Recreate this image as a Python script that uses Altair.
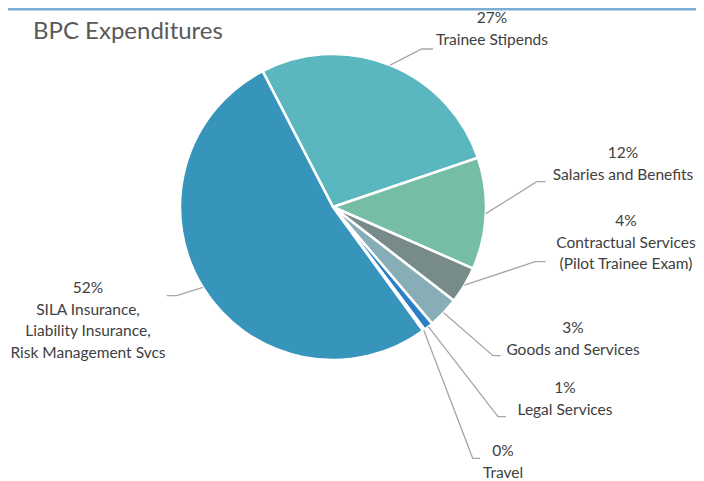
import math
import altair as alt
import pandas as pd

# ---- data ----
categories = ["Trainee Stipends", "Salaries and Benefits", "Contractual Services\n(Pilot Trainee Exam)",
              "Goods and Services", "Legal Services", "Travel",
              "SILA Insurance,\nLiability Insurance,\nRisk Management Svcs"]
values = [27.4, 11.8, 3.9, 3.3, 1.0, 0.2, 52.4]
colors = ["#5AB6BF", "#75BEA5", "#778B8A", "#87AEB7", "#2B80C5", "#9DC3E6", "#3795BC"]

# ---- layout (reference pixel coordinates) ----
W, H = 704, 481
CX, CY, R = 333, 207, 153
START_DEG = -27.4
label_pos = [(492, 18), (623, 153), (626, 221), (573, 328), (565, 388), (503, 451), (88, 288)]
elbows = [[(421.7, 49), (433, 49)], [(536.7, 181.7), (545.7, 181.7)], [(535, 261.7), (545.7, 261.7)],
          [(493, 355.7), (500.7, 355.7)], [(498, 416.7), (506, 416.7)], [(472.7, 458.3), (480, 458.3)],
          [(176.7, 295.7), (166.7, 295.7)]]
LH = 21.5
FONT = "Lato"

total = sum(values)
pie_df = pd.DataFrame({"cat": categories, "value": values, "order": list(range(len(values)))})

# label rows & leader lines
text_rows, line_rows = [], []
cum = 0.0
for i, (c, v) in enumerate(zip(categories, values)):
    mid = START_DEG + (cum + v / 2) / total * 360
    cum += v
    a = math.radians(mid)
    ax, ay = CX + R * math.sin(a), CY - R * math.cos(a)
    pts = [(ax, ay)] + elbows[i]
    for k, (px, py) in enumerate(pts):
        line_rows.append({"cat": c, "k": k, "x": px, "y": py})
    lines = [f"{round(v / total * 100)}%"] + c.split("\n")
    lx, ly = label_pos[i]
    for j, t in enumerate(lines):
        text_rows.append({"x": lx, "y": ly + j * LH, "t": t})

xs = alt.Scale(domain=[8, W - 8])
ys = alt.Scale(domain=[8, H - 8], reverse=True)

start = math.radians(START_DEG)
pie = alt.Chart(pie_df).mark_arc(outerRadius=R, stroke="white", strokeWidth=2.5).encode(
    theta=alt.Theta("value:Q", stack=True, scale=alt.Scale(range=[start, start + 2 * math.pi])),
    order=alt.Order("order:Q"),
    color=alt.Color("cat:N", scale=alt.Scale(domain=categories, range=colors), legend=None),
    x=alt.value(CX - 8), y=alt.value(CY - 8),
)

leaders = alt.Chart(pd.DataFrame(line_rows)).mark_line(color="#A6A6A6", strokeWidth=1.3).encode(
    x=alt.X("x:Q", scale=xs, axis=None),
    y=alt.Y("y:Q", scale=ys, axis=None),
    detail="cat:N",
    order="k:Q",
)

labels = alt.Chart(pd.DataFrame(text_rows)).mark_text(
    font=FONT, fontSize=15.5, color="#404040", align="center", baseline="middle"
).encode(
    x=alt.X("x:Q", scale=xs, axis=None),
    y=alt.Y("y:Q", scale=ys, axis=None),
    text="t:N",
)

title = alt.Chart(pd.DataFrame({"x": [33], "y": [32], "t": ["BPC Expenditures"]})).mark_text(
    font=FONT, fontSize=24, color="#595959", align="left", baseline="middle"
).encode(
    x=alt.X("x:Q", scale=xs, axis=None),
    y=alt.Y("y:Q", scale=ys, axis=None),
    text="t:N",
)

topbar = alt.Chart(pd.DataFrame({"x": [8], "x2": [W - 8]})).mark_rect(color="#7BADD6").encode(
    x=alt.X("x:Q", scale=xs, axis=None), x2="x2:Q",
    y=alt.value(0), y2=alt.value(2.5),
)

chart = alt.layer(topbar, pie, leaders, labels, title).properties(
    width=W - 16, height=H - 16, padding=0
).configure_view(stroke=None)

chart.save("out.html", embed_options={"renderer": "svg", "actions": False})
